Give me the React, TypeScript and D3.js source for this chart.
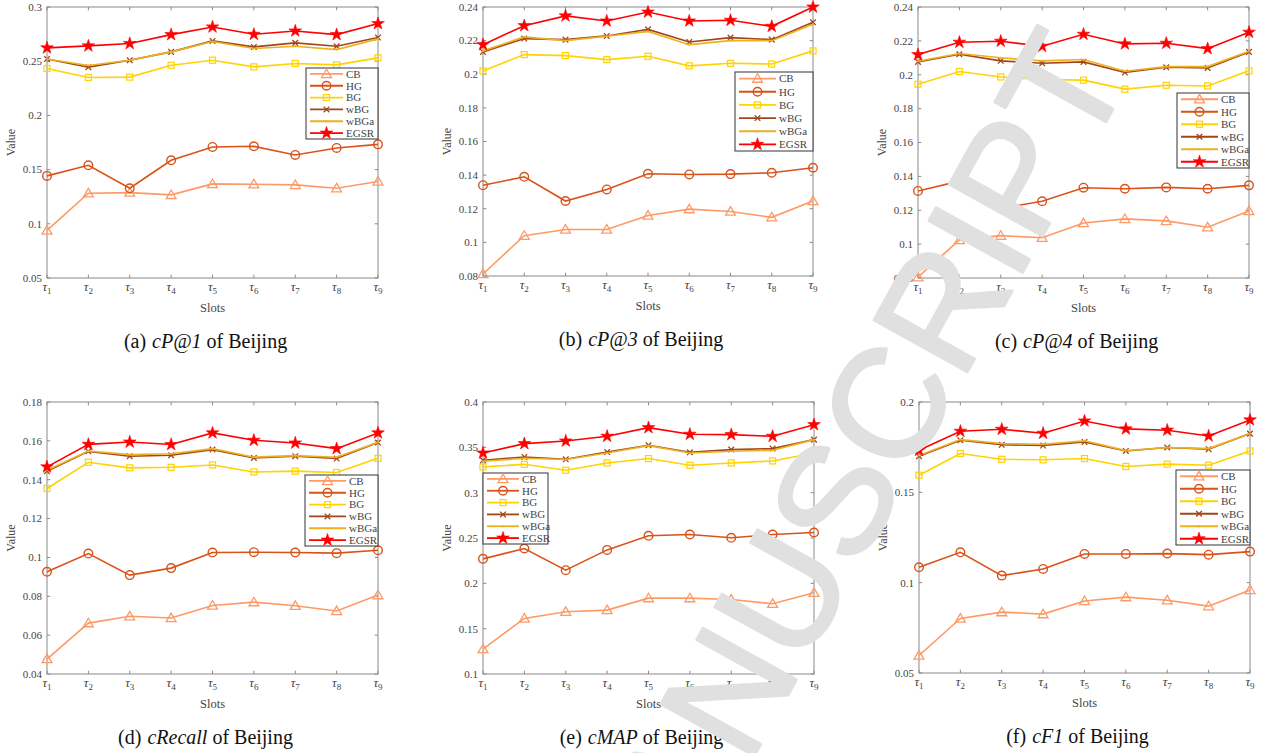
import React from "react";
import * as d3 from "d3";

const slots = ["1", "2", "3", "4", "5", "6", "7", "8", "9"];
const methods = ["CB", "HG", "BG", "wBG", "wBGa", "EGSR"];
const methodColors = ["#ff9966", "#d95319", "#ffd200", "#a2461a", "#edb120", "#ff0000"];

// each panel: one row per method, same order as `methods`
const cp1Values = [
  [0.0939, 0.1282, 0.1288, 0.1267, 0.1368, 0.1365, 0.1359, 0.1328, 0.139],
  [0.1442, 0.154, 0.1328, 0.1586, 0.1709, 0.1715, 0.1635, 0.17, 0.1733],
  [0.2433, 0.235, 0.2353, 0.2463, 0.2509, 0.2448, 0.2479, 0.2466, 0.2531],
  [0.2521, 0.2445, 0.2509, 0.2586, 0.2687, 0.2632, 0.2669, 0.2638, 0.2718],
  [0.2521, 0.246, 0.2509, 0.2586, 0.2681, 0.2617, 0.2638, 0.2607, 0.2706],
  [0.2623, 0.2641, 0.2663, 0.2745, 0.2816, 0.2748, 0.2779, 0.2745, 0.2847],
];
const cp3Values = [
  [0.0812, 0.104, 0.1077, 0.1077, 0.116, 0.1198, 0.1184, 0.1149, 0.1246],
  [0.134, 0.139, 0.1246, 0.1315, 0.1408, 0.1404, 0.1406, 0.1414, 0.1444],
  [0.202, 0.2117, 0.2111, 0.2087, 0.2107, 0.205, 0.2065, 0.2061, 0.2139],
  [0.2133, 0.2212, 0.2206, 0.2228, 0.2267, 0.2192, 0.2218, 0.2206, 0.2309],
  [0.2139, 0.2222, 0.22, 0.2226, 0.2255, 0.2176, 0.22, 0.22, 0.2297],
  [0.2176, 0.2289, 0.2347, 0.2317, 0.237, 0.2317, 0.2321, 0.2285, 0.24],
];
const cp4Values = [
  [0.0805, 0.1025, 0.105, 0.1038, 0.1125, 0.1149, 0.1137, 0.11, 0.1196],
  [0.1314, 0.1372, 0.1211, 0.1253, 0.1333, 0.1327, 0.1335, 0.1327, 0.1347],
  [0.1944, 0.2019, 0.1987, 0.1972, 0.1968, 0.1915, 0.1938, 0.1934, 0.2023],
  [0.2076, 0.2121, 0.2082, 0.2068, 0.2076, 0.2013, 0.2044, 0.204, 0.2135],
  [0.208, 0.2125, 0.21, 0.2082, 0.209, 0.2021, 0.2048, 0.2048, 0.2139],
  [0.2119, 0.2192, 0.2198, 0.2168, 0.2239, 0.2182, 0.2186, 0.2154, 0.2251],
];
const recallValues = [
  [0.0477, 0.0662, 0.0697, 0.0688, 0.0753, 0.077, 0.0751, 0.0724, 0.0806],
  [0.0926, 0.102, 0.0909, 0.0945, 0.1025, 0.1027, 0.1025, 0.1022, 0.1037],
  [0.1355, 0.149, 0.1461, 0.1464, 0.1476, 0.144, 0.1444, 0.1437, 0.151],
  [0.1444, 0.1546, 0.1521, 0.1526, 0.1555, 0.1512, 0.1521, 0.1509, 0.1591],
  [0.1449, 0.1548, 0.1529, 0.1534, 0.156, 0.1516, 0.1524, 0.1516, 0.1593],
  [0.1466, 0.1582, 0.1594, 0.1581, 0.1641, 0.1603, 0.1589, 0.156, 0.1641],
];
const mapValues = [
  [0.1275, 0.1613, 0.1686, 0.1705, 0.1837, 0.1837, 0.1822, 0.1775, 0.1896],
  [0.227, 0.2384, 0.2145, 0.2369, 0.2524, 0.2538, 0.2502, 0.2538, 0.256],
  [0.3284, 0.3313, 0.3247, 0.3328, 0.3376, 0.3302, 0.3328, 0.335, 0.3438],
  [0.3357, 0.3394, 0.3368, 0.3449, 0.3523, 0.3445, 0.3475, 0.3486, 0.3585],
  [0.3346, 0.3379, 0.3365, 0.3438, 0.3519, 0.3438, 0.3456, 0.3467, 0.3585],
  [0.3438, 0.3541, 0.357, 0.3622, 0.3717, 0.3644, 0.364, 0.3622, 0.375],
];
const f1Values = [
  [0.0597, 0.0802, 0.0837, 0.0826, 0.0899, 0.092, 0.0903, 0.087, 0.096],
  [0.1085, 0.1168, 0.1039, 0.1076, 0.1159, 0.1159, 0.1161, 0.1155, 0.1172],
  [0.1595, 0.1715, 0.1683, 0.168, 0.1687, 0.1643, 0.1656, 0.165, 0.1729],
  [0.17, 0.1788, 0.1763, 0.1759, 0.1779, 0.1729, 0.1748, 0.1739, 0.1825],
  [0.1704, 0.1792, 0.177, 0.1766, 0.1785, 0.1731, 0.1748, 0.1742, 0.1825],
  [0.1733, 0.1838, 0.1849, 0.1827, 0.1895, 0.1851, 0.1844, 0.1812, 0.1901],
];

const cp1Ticks = [0.05, 0.1, 0.15, 0.2, 0.25, 0.3];
const cp3Ticks = [0.08, 0.1, 0.12, 0.14, 0.16, 0.18, 0.2, 0.22, 0.24];
const recallTicks = [0.04, 0.06, 0.08, 0.1, 0.12, 0.14, 0.16, 0.18];
const mapTicks = [0.1, 0.15, 0.2, 0.25, 0.3, 0.35, 0.4];
const f1Ticks = [0.05, 0.1, 0.15, 0.2];

const panels = [
  { tag: "(a)", metric: "cP@1", values: cp1Values, ticks: cp1Ticks, x0: 47, x1: 378, y0: 7, y1: 278, lg: [306, 68, 72, 71, 33] },
  { tag: "(b)", metric: "cP@3", values: cp3Values, ticks: cp3Ticks, x0: 483, x1: 813, y0: 7, y1: 276, lg: [735, 72, 78, 79, 37] },
  { tag: "(c)", metric: "cP@4", values: cp4Values, ticks: cp3Ticks, x0: 918, x1: 1249, y0: 7, y1: 278, lg: [1177, 93, 72, 75, 37] },
  { tag: "(d)", metric: "cRecall", values: recallValues, ticks: recallTicks, x0: 47, x1: 378, y0: 402, y1: 674, lg: [305, 475, 73, 71, 37] },
  { tag: "(e)", metric: "cMAP", values: mapValues, ticks: mapTicks, x0: 483, x1: 814, y0: 402, y1: 674, lg: [483, 473, 65, 71, 32] },
  { tag: "(f)", metric: "cF1", values: f1Values, ticks: f1Ticks, x0: 919, x1: 1250, y0: 402, y1: 673, lg: [1176, 470, 74, 75, 38] },
];

const serif = "'Liberation Serif', 'Times New Roman', serif";
const axisColor = "#8a8a8a";
const textColor = "#444";

const starPath = d3.symbol(d3.symbolStar, 50)();
const triPath = d3.symbol(d3.symbolTriangle, 42)();

const Marker = ({ kind, x, y, color }) => {
  const t = `translate(${x},${y})`;
  if (kind === 0) return <path d={triPath} transform={`translate(${x},${y + 0.8})`} fill="none" stroke={color} strokeWidth={1.3} />;
  if (kind === 1) return <circle cx={x} cy={y} r={4.3} fill="none" stroke={color} strokeWidth={1.4} />;
  if (kind === 2) return <rect x={x - 3} y={y - 3} width={6} height={6} fill="none" stroke={color} strokeWidth={1.2} />;
  if (kind === 3)
    return <path d="M-2.8,-2.8L2.8,2.8M-2.8,2.8L2.8,-2.8" transform={t} stroke={color} strokeWidth={1.3} />;
  if (kind === 4) return <circle cx={x} cy={y} r={1} fill={color} />;
  return <path d={starPath} transform={t} fill={color} stroke={color} strokeWidth={0.6} />;
};

const Panel = ({ p }) => {
  const x = d3.scalePoint().domain(slots).range([p.x0, p.x1]);
  const y = d3
    .scaleLinear()
    .domain([p.ticks[0], p.ticks[p.ticks.length - 1]])
    .range([p.y1, p.y0]);
  const line = d3
    .line()
    .x((d, i) => x(slots[i]))
    .y((d) => y(d));
  const [lx, ly, lw, lh, ll] = p.lg;
  const rowH = lh / 6;
  const cx = (p.x0 + p.x1) / 2;

  return (
    <g>
      {/* ticks */}
      {p.ticks.map((t) => (
        <g key={"y" + t}>
          <line x1={p.x0} x2={p.x0 + 3.3} y1={y(t)} y2={y(t)} stroke={axisColor} />
          <line x1={p.x1} x2={p.x1 - 3.3} y1={y(t)} y2={y(t)} stroke={axisColor} />
          <text x={p.x0 - 5} y={y(t)} dy="0.35em" textAnchor="end" fontSize={11} fill={textColor} fontFamily={serif}>
            {String(+t.toFixed(2))}
          </text>
        </g>
      ))}
      {slots.map((s) => (
        <g key={"x" + s}>
          <line x1={x(s)} x2={x(s)} y1={p.y1} y2={p.y1 - 3.3} stroke={axisColor} />
          <line x1={x(s)} x2={x(s)} y1={p.y0} y2={p.y0 + 3.3} stroke={axisColor} />
          <text x={x(s)} y={p.y1 + 12.5} textAnchor="middle" fill={textColor} fontFamily={serif}>
            <tspan fontSize={13} fontStyle="italic">τ</tspan>
            <tspan fontSize={9} dy={3}>{s}</tspan>
          </text>
        </g>
      ))}
      <rect x={p.x0} y={p.y0} width={p.x1 - p.x0} height={p.y1 - p.y0} fill="none" stroke={axisColor} />
      <text x={cx} y={p.y1 + 34} textAnchor="middle" fontSize={12.5} fill={textColor} fontFamily={serif}>
        Slots
      </text>
      <text
        transform={`translate(${p.x0 - 32},${(p.y0 + p.y1) / 2}) rotate(-90)`}
        textAnchor="middle"
        fontSize={12}
        fill={textColor}
        fontFamily={serif}
      >
        Value
      </text>

      {/* series */}
      {p.values.map((vals, k) => (
        <g key={methods[k]}>
          <path d={line(vals)} fill="none" stroke={methodColors[k]} strokeWidth={1.6} />
          {vals.map((v, i) => (
            <Marker key={i} kind={k} x={x(slots[i])} y={y(v)} color={methodColors[k]} />
          ))}
        </g>
      ))}

      {/* legend */}
      <rect x={lx} y={ly} width={lw} height={lh} fill="#fff" stroke="#333" strokeWidth={1} />
      {methods.map((m, k) => {
        const yy = ly + rowH * (k + 0.5);
        return (
          <g key={m}>
            <line x1={lx + 4} x2={lx + 4 + ll} y1={yy} y2={yy} stroke={methodColors[k]} strokeWidth={1.8} />
            <Marker kind={k} x={lx + 4 + ll / 2} y={yy} color={methodColors[k]} />
            <text x={lx + ll + 7} y={yy} dy="0.35em" fontSize={11} fill={textColor} fontFamily={serif}>
              {m}
            </text>
          </g>
        );
      })}

      {/* caption */}
      <text x={cx - 7} y={p.y1 + 70} textAnchor="middle" fontSize={20} fill="#111" fontFamily={serif}>
        <tspan>{p.tag}</tspan>
        <tspan dx={6} fontStyle="italic">{p.metric}</tspan>
        <tspan> of Beijing</tspan>
      </text>
    </g>
  );
};

export default function App() {
  return (
    <div style={{ position: "absolute", left: 0, top: 0 }}>
      <svg width={1268} height={753} style={{ display: "block", background: "#fff" }}>
        {panels.map((p) => (
          <Panel key={p.tag} p={p} />
        ))}
        {/* watermark */}
        <text
          transform="translate(884,522) rotate(-61)"
          textAnchor="middle"
          fontSize={155}
          fill="#e0e0e0"
          stroke="#e0e0e0"
          strokeWidth={3}
          strokeLinejoin="round"
          fontFamily="'Liberation Sans', Arial, sans-serif"
        >
          MANUSCRIPT
        </text>
      </svg>
    </div>
  );
}
